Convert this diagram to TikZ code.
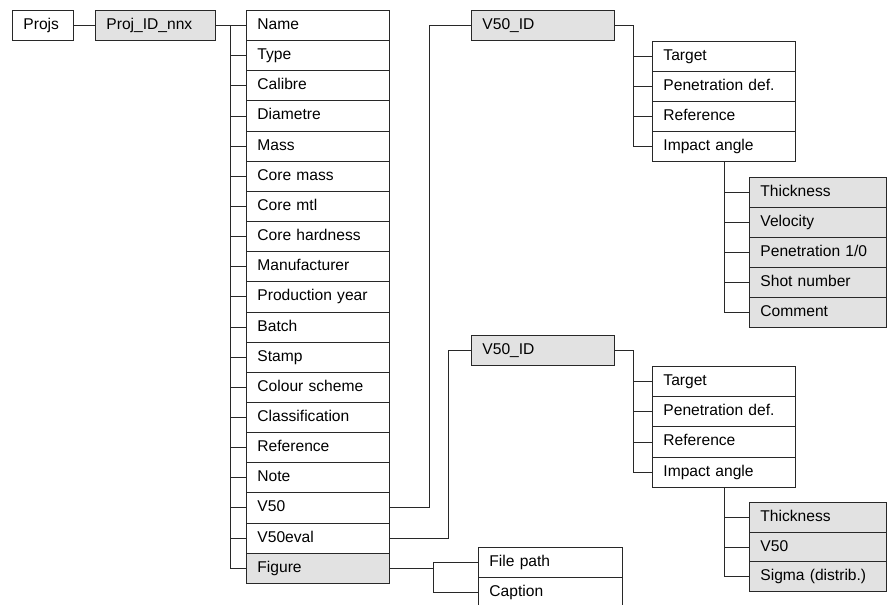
\documentclass[tikz,border=0pt]{standalone}
\usepackage{fontspec}
\setmainfont{Liberation Sans}
\usepackage{tikz}
\definecolor{boxgray}{RGB}{226,226,226}
\definecolor{linedark}{RGB}{40,40,40}

\tikzset{
  field/.style={draw=linedark, line width=0.9pt, anchor=north west, inner xsep=11pt, inner ysep=0pt,
    minimum height=30pt, text width=#1, text height=11.5pt, text depth=3.5pt, align=left,
    font=\fontsize{15.6}{18}\selectfont},
  keyfield/.style={field=#1, fill=boxgray},
  link/.style={draw=linedark, line width=0.9pt}
}

\begin{document}
\begin{tikzpicture}[x=1pt, y=-1pt]
    \useasboundingbox (0,0) rectangle (887,605);

    % root
    \node[field=39pt] (projs) at (12,10) {Projs};
    \node[keyfield=98pt] (projid) at (95,10) {Proj\_ID\_nnx};
    \draw[link] (projs.east) -- (projid.west);

    % projectile fields
    \foreach \lbl [count=\i] in {Name,Type,Calibre,Diametre,Mass,Core mass,Core mtl,Core hardness,
        Manufacturer,Production year,Batch,Stamp,Colour scheme,Classification,Reference,Note,V50,V50eval} {
        \node[field=121pt, minimum height=30.15pt] (f\i) at (246,{10+(\i-1)*30.15}) {\lbl};
    }
    \node[keyfield=121pt, minimum height=30.15pt] (f19) at (246,{10+18*30.15}) {Figure};
    \draw[link] (projid.east) -- (f1.west);
    \foreach \i in {2,...,19} {
        \draw[link] ([xshift=-16pt]f1.west) |- (f\i.west);
    }

    % V50 tables
    \node[keyfield=121pt] (vid1) at (471,10) {V50\_ID};
    \node[keyfield=121pt] (vid2) at (471,335) {V50\_ID};
    \draw[link] (f17.east) -- ++(40,0) |- (vid1.west);
    \draw[link] (f18.east) -- ++(59,0) |- (vid2.west);

    % V50 fields
    \foreach \lbl [count=\i] in {Target,Penetration def.,Reference,Impact angle} {
        \node[field=121pt] (ta\i) at (652,{41+(\i-1)*30}) {\lbl};
        \node[field=121pt, minimum height=30.2pt] (tb\i) at (652,{366+(\i-1)*30.2}) {\lbl};
        \draw[link] (vid1.east) -- ++(19,0) |- (ta\i.west);
        \draw[link] (vid2.east) -- ++(19,0) |- (tb\i.west);
    }

    % shot records
    \foreach \lbl [count=\i] in {Thickness,Velocity,Penetration 1/0,Shot number,Comment} {
        \node[keyfield=115pt] (sa\i) at (749,{177+(\i-1)*30}) {\lbl};
        \draw[link] (ta4.south) |- (sa\i.west);
    }

    % evaluation records
    \foreach \lbl [count=\i] in {Thickness,V50,Sigma (distrib.)} {
        \node[keyfield=115pt, minimum height=29.7pt] (sb\i) at (749,{502+(\i-1)*29.7}) {\lbl};
        \draw[link] (tb4.south) |- (sb\i.west);
    }

    % figure
    \node[field=122pt] (fig1) at (478,547) {File path};
    \node[field=122pt] (fig2) at (478,577) {Caption};
    \draw[link] (f19.east) -- ++(44,0) coordinate (figfork) |- (fig1.west);
    \draw[link] (figfork) |- (fig2.west);
\end{tikzpicture}
\end{document}
